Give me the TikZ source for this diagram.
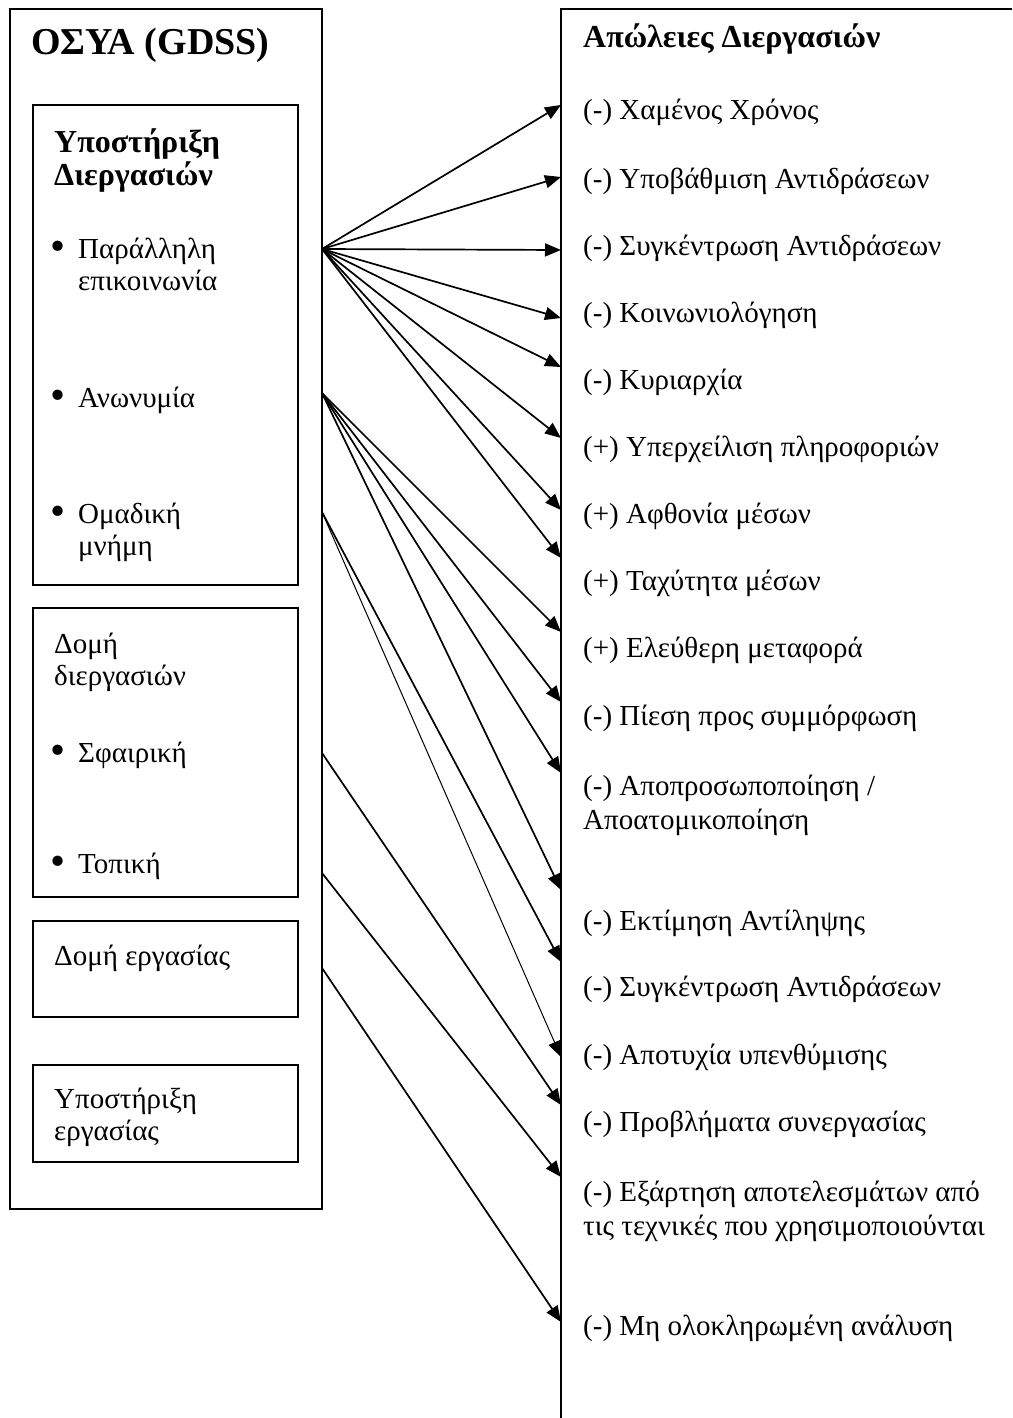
\documentclass[tikz,border=0pt]{standalone}
\usepackage{fontspec}
\setmainfont{Liberation Serif}
\usetikzlibrary{arrows.meta}
\newcommand\txtlines[1]{\begin{tabular}[t]{@{}l@{}}#1\end{tabular}}
\newcommand\bul{\llap{\raisebox{-2pt}{\fontsize{43}{43}\selectfont•}\hspace{13pt}}}

\begin{document}
\begin{tikzpicture}[x=1pt,y=-1pt,
  frame/.style={draw, line width=2pt, inner sep=0pt, outer sep=0pt, anchor=north west},
  lbl/.style={anchor=base west, inner sep=0pt, font=\fontsize{29}{32}\selectfont},
  rlbl/.style={anchor=base west, inner sep=0pt, font=\fontsize{29}{34}\selectfont},
  head/.style={lbl, font=\fontsize{32}{30}\selectfont\bfseries},
  link/.style={line width=1.7pt, -{Triangle[length=16pt,width=13pt]}},
  thinlink/.style={link, line width=1pt},
]
\useasboundingbox (0,0) rectangle (1012,1418);

% GDSS column and its inner boxes
\node[frame, minimum width=312pt, minimum height=1200pt] (gdss) at (10,9) {};
\node[frame, minimum width=265pt, minimum height=480pt] (proc) at (33,105) {};
\node[frame, minimum width=265pt, minimum height=289pt] (pstruct) at (33,608) {};
\node[frame, minimum width=265pt, minimum height=96pt] (tstruct) at (33,921) {};
\node[frame, minimum width=265pt, minimum height=97pt] (tsupport) at (33,1065) {};

% process losses column (open to the right and bottom)
\coordinate (lossTR) at (1012,9);
\coordinate (lossTL) at (561,9);
\coordinate (lossBL) at (561,1418);
\draw[line width=2pt] (lossTR) -- (lossTL) -- (lossBL);

% left texts
\node[anchor=base west, inner sep=0pt, font=\fontsize{38}{40}\selectfont\bfseries] (title) at (31,55) {ΟΣΥΑ (GDSS)};
\node[head] (prochead) at (54,153) {\txtlines{Υποστήριξη\\Διεργασιών}};
\node[lbl] (parallel) at (78,258) {\bul\txtlines{Παράλληλη\\επικοινωνία}};
\node[lbl] (anon) at (78,407) {\bul Ανωνυμία};
\node[lbl] (memory) at (78,523) {\bul\txtlines{Ομαδική\\μνήμη}};
\node[lbl] (pshead) at (54,653) {\txtlines{Δομή\\διεργασιών}};
\node[lbl] (global) at (78,762) {\bul Σφαιρική};
\node[lbl] (local) at (78,873) {\bul Τοπική};
\node[lbl] (tshead) at (54,965) {Δομή εργασίας};
\node[lbl] (tsuphead) at (54,1108) {\txtlines{Υποστήριξη\\εργασίας}};

% right texts
\node[head] (losshead) at (583,48) {Απώλειες Διεργασιών};
\node[rlbl] (r1) at (583,120) {(-) Χαμένος Χρόνος};
\node[rlbl] (r2) at (583,188) {(-) Υποβάθμιση Αντιδράσεων};
\node[rlbl] (r3) at (583,255) {(-) Συγκέντρωση Αντιδράσεων};
\node[rlbl] (r4) at (583,322) {(-) Κοινωνιολόγηση};
\node[rlbl] (r5) at (583,389) {(-) Κυριαρχία};
\node[rlbl] (r6) at (583,456) {(+) Υπερχείλιση πληροφοριών};
\node[rlbl] (r7) at (583,523) {(+) Αφθονία μέσων};
\node[rlbl] (r8) at (583,590) {(+) Ταχύτητα μέσων};
\node[rlbl] (r9) at (583,657) {(+) Ελεύθερη μεταφορά};
\node[rlbl] (r10) at (583,725) {(-) Πίεση προς συμμόρφωση};
\node[rlbl] (r11) at (583,795) {\txtlines{(-) Αποπροσωποποίηση /\\Αποατομικοποίηση}};
\node[rlbl] (r12) at (583,930) {(-) Εκτίμηση Αντίληψης};
\node[rlbl] (r13) at (583,996) {(-) Συγκέντρωση Αντιδράσεων};
\node[rlbl] (r14) at (583,1064) {(-) Αποτυχία υπενθύμισης};
\node[rlbl] (r15) at (583,1131) {(-) Προβλήματα συνεργασίας};
\node[rlbl] (r16) at (583,1201) {\txtlines{(-) Εξάρτηση αποτελεσμάτων από\\τις τεχνικές που χρησιμοποιούνται}};
\node[rlbl] (r17) at (583,1335) {(-) Μη ολοκληρωμένη ανάλυση};

% connector ends on the column edges
\coordinate (sA) at (322,249);
\coordinate (sB) at (322,393);
\coordinate (sC) at (322,512);
\coordinate (sD) at (322,753);
\coordinate (sE) at (322,873);
\coordinate (sF) at (322,968);
\foreach \n/\y in {1/105,2/177,3/250,4/318,5/367,6/438,7/510,8/558,9/632,10/702,
                   11/773,12/890,13/962,14/1057,15/1105,16/1177,17/1322}
  \coordinate (t\n) at (561,\y);

% connectors
\foreach \t in {1,...,8} \draw[link] (sA) -- (t\t);
\foreach \t in {9,...,12} \draw[link] (sB) -- (t\t);
\draw[link] (sC) -- (t13);
\draw[thinlink] (sC) -- (t14);
\draw[link] (sD) -- (t15);
\draw[link] (sE) -- (t16);
\draw[link] (sF) -- (t17);
\end{tikzpicture}
\end{document}
